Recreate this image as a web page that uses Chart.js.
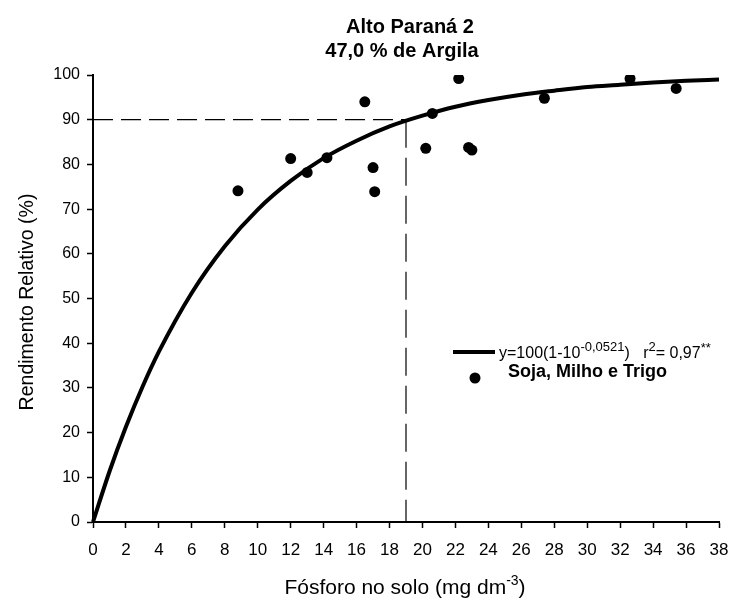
<!DOCTYPE html>
<html>
<head>
<meta charset="utf-8">
<title>Alto Paraná 2</title>
<script src="https://cdn.jsdelivr.net/npm/chart.js"></script>
<style>
  html, body { margin: 0; padding: 0; background: #fff; }
  canvas { display: block; }
</style>
</head>
<body>
<canvas id="grafico" width="730" height="608"></canvas>
<script>
  // pontos observados - Soja, Milho e Trigo
  const fosforo = [8.8, 12.0, 13.0, 14.2, 16.5, 17.0, 17.1, 20.2, 20.6, 22.2, 22.8, 23.0, 27.4, 32.6, 35.4]
  const rendimento = [74.1, 81.3, 78.2, 81.5, 94.0, 79.3, 73.9, 83.6, 91.4, 99.2, 83.8, 83.2, 94.8, 99.2, 97.0]

  // curva ajustada
  const curvaX = [0, 1, 2, 3, 4, 6, 8, 10, 12, 14, 16, 18, 20, 22, 24, 26, 28, 30, 32, 34, 36, 38]
  const curvaY = [0, 11.3, 21.3, 30.2, 38.1, 51.3, 61.7, 69.9, 76.3, 81.4, 85.3, 88.5, 90.9, 92.9, 94.4, 95.6, 96.5, 97.3, 97.8, 98.3, 98.7, 99.0]

  // nivel critico (90 %)
  const criticoX = [0, 19.0, 19.0]
  const criticoY = [90, 90, 0]

  // eixos
  const eixoX = [0, 38, 2]   // min, max, passo
  const eixoY = [0, 100, 10]

  const fonte = '"Liberation Sans", Arial, sans-serif'

  function pares(xs, ys) {
    return xs.map((x, i) => ({ x: x, y: ys[i] }))
  }

  // escreve pedacos de texto (com sobrescrito) lado a lado
  function textoComposto(ctx, partes, x, y, centro) {
    let total = 0
    partes.forEach(p => {
      ctx.font = p.font
      total += ctx.measureText(p.t).width
    })
    let cx = centro ? x - total / 2 : x
    ctx.textAlign = 'left'
    partes.forEach(p => {
      ctx.font = p.font
      ctx.fillText(p.t, cx, y + (p.dy || 0))
      cx += ctx.measureText(p.t).width
    })
  }

  const textos = {
    id: 'textos',
    afterDraw(chart) {
      const ctx = chart.ctx
      ctx.save()
      ctx.fillStyle = '#000'
      ctx.textBaseline = 'alphabetic'

      // titulo
      ctx.textAlign = 'center'
      ctx.font = 'bold 20px ' + fonte
      ctx.fillText('Alto Paraná 2', 410, 33)
      ctx.fillText('47,0 % de Argila', 402, 57)

      // titulo eixo x
      const n = '21px ' + fonte
      const s = '14px ' + fonte
      textoComposto(ctx, [
        { t: 'Fósforo no solo (mg dm', font: n },
        { t: '-3', font: s, dy: -9 },
        { t: ')', font: n }
      ], 405, 594, true)

      // titulo eixo y
      ctx.save()
      ctx.translate(33, 302)
      ctx.rotate(-Math.PI / 2)
      ctx.textAlign = 'center'
      ctx.font = '19.5px ' + fonte
      ctx.fillText('Rendimento Relativo (%)', 0, 0)
      ctx.restore()

      // legenda
      ctx.strokeStyle = '#000'
      ctx.lineWidth = 4
      ctx.beginPath()
      ctx.moveTo(453, 352)
      ctx.lineTo(495, 352)
      ctx.stroke()
      const l = '16px ' + fonte
      const ls = '13px ' + fonte
      textoComposto(ctx, [
        { t: 'y=100(1-10', font: l },
        { t: '-0,0521', font: ls, dy: -7 },
        { t: ')   r', font: l },
        { t: '2', font: ls, dy: -7 },
        { t: '= 0,97', font: l },
        { t: '**', font: ls, dy: -6 }
      ], 499, 358, false)

      ctx.beginPath()
      ctx.arc(475, 378, 5.5, 0, Math.PI * 2)
      ctx.fill()
      ctx.textAlign = 'left'
      ctx.font = 'bold 18px ' + fonte
      ctx.fillText('Soja, Milho e Trigo', 508, 377)
      ctx.restore()
    }
  }

  const ctx = document.getElementById('grafico')

  new Chart(ctx, {
    type: 'scatter',
    data: {
      datasets: [
        {
          label: 'Soja, Milho e Trigo',
          data: pares(fosforo, rendimento),
          backgroundColor: '#000',
          borderWidth: 0,
          pointRadius: 5.5
        },
        {
          label: 'ajuste',
          data: pares(curvaX, curvaY),
          showLine: true,
          borderColor: '#000',
          borderWidth: 4,
          pointRadius: 0,
          cubicInterpolationMode: 'monotone',
          clip: false
        },
        {
          label: 'critico x',
          data: pares(criticoX.slice(0, 2), criticoY.slice(0, 2)),
          showLine: true,
          borderColor: '#000',
          borderWidth: 1.2,
          borderDash: [20, 8],
          pointRadius: 0
        },
        {
          label: 'critico y',
          data: pares(criticoX.slice(1), criticoY.slice(1)),
          showLine: true,
          borderColor: '#000',
          borderWidth: 1.2,
          borderDash: [28, 10],
          pointRadius: 0
        }
      ]
    },
    options: {
      responsive: false,
      animation: false,
      layout: { padding: { top: 75, right: 11, left: 0, bottom: 0 } },
      plugins: {
        legend: { display: false },
        tooltip: { enabled: false },
        title: { display: false }
      },
      scales: {
        x: {
          type: 'linear',
          min: eixoX[0],
          max: eixoX[1],
          ticks: { stepSize: eixoX[2], color: '#000', font: { size: 17, family: fonte }, padding: 12, maxRotation: 0, autoSkip: false },
          grid: { drawOnChartArea: false, color: '#000', tickLength: 6, tickWidth: 1.5 },
          border: { color: '#000', width: 2 },
          afterFit(scale) {
            scale.height = 86
            scale.paddingLeft = 0
            scale.paddingRight = 0
          }
        },
        y: {
          min: eixoY[0],
          max: eixoY[1],
          ticks: { stepSize: eixoY[2], color: '#000', font: { size: 16, family: fonte }, padding: 7 },
          grid: { drawOnChartArea: false, color: '#000', tickLength: 6, tickWidth: 1.5 },
          border: { color: '#000', width: 2 },
          afterFit(scale) {
            scale.width = 93
            scale.paddingTop = 0
            scale.paddingBottom = 0
          }
        }
      }
    },
    plugins: [textos]
  })
</script>
</body>
</html>
